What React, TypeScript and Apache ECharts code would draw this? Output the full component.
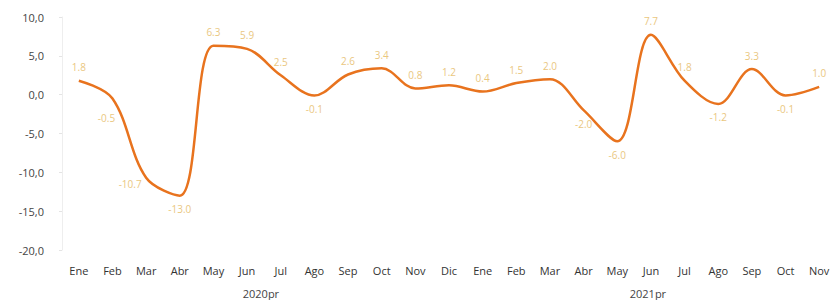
import React, { useEffect, useRef } from "react";
import * as echarts from "echarts";

const months = ["Ene","Feb","Mar","Abr","May","Jun","Jul","Ago","Sep","Oct","Nov","Dic","Ene","Feb","Mar","Abr","May","Jun","Jul","Ago","Sep","Oct","Nov"];
const values = [1.8,-0.5,-10.7,-13.0,6.3,5.9,2.5,-0.1,2.6,3.4,0.8,1.2,0.4,1.5,2.0,-2.0,-6.0,7.7,1.8,-1.2,3.3,-0.1,1.0];
const labelPos = ["top","bottomLeft","left","bottom","top","top","top","bottom","top","top","top","top","top","top","top","bottom","bottom","top","top","bottom","top","bottom","top"];
const years = [
  { name: "2020pr", from: 0, to: 11 },
  { name: "2021pr", from: 12, to: 22 },
];

export default function App() {
  const ref = useRef<HTMLDivElement>(null);
  useEffect(() => {
    const chart = echarts.init(ref.current!, null, { renderer: "svg" });
    const font = "'Open Sans', 'Noto Sans', sans-serif";
    const labelFor = (p: string) => {
      if (p === "left") return { position: "left", distance: 4, offset: [0, 6] };
      if (p === "bottomLeft") return { position: "bottom", distance: 14, offset: [-6, 0] };
      return { position: p, distance: 8, offset: [0, 0] };
    };
    chart.setOption({
      animation: false,
      backgroundColor: "#ffffff",
      grid: { left: 62, right: -6, top: 17, bottom: 50 },
      xAxis: {
        type: "category",
        data: months,
        boundaryGap: true,
        axisLine: { show: false },
        axisTick: { show: false },
        axisLabel: { color: "#333", fontSize: 11, fontFamily: font, margin: 15, interval: 0 },
      },
      yAxis: {
        type: "value",
        min: -20,
        max: 10,
        interval: 5,
        axisLine: { show: true, lineStyle: { color: "#eeeeee" } },
        axisTick: { show: true, length: 3, lineStyle: { color: "#e4e4e4" } },
        splitLine: { show: false },
        axisLabel: {
          color: "#444",
          fontSize: 11,
          fontFamily: font,
          margin: 18,
          formatter: (v: number) => v.toFixed(1).replace(".", ","),
        },
      },
      series: [
        {
          type: "line",
          smooth: 0.35,
          symbol: "circle",
          symbolSize: 1,
          showSymbol: true,
          itemStyle: { color: "rgba(0,0,0,0)" },
          data: values.map((v, i) => ({
            value: v,
            label: { show: true, ...labelFor(labelPos[i]) },
          })),
          lineStyle: { color: "#E8731E", width: 2.5 },
          label: {
            show: true,
            color: "#EAC77F",
            fontSize: 10,
            fontFamily: font,
            formatter: (p: any) => Number(p.value).toFixed(1),
          },
        },
      ],
    });
    const graphics = years.map((y) => {
      const a = chart.convertToPixel({ xAxisIndex: 0 }, y.from) as number;
      const b = chart.convertToPixel({ xAxisIndex: 0 }, y.to) as number;
      return {
        type: "text",
        x: (a + b) / 2 - 3,
        y: 293,
        style: {
          text: y.name,
          fill: "#444",
          fontSize: 11,
          fontFamily: font,
          align: "center",
          verticalAlign: "middle",
        },
      };
    });
    chart.setOption({ graphic: graphics });
    return () => chart.dispose();
  }, []);
  return (
    <div
      ref={ref}
      style={{ position: "fixed", left: 0, top: 0, width: 836, height: 300 }}
    />
  );
}
